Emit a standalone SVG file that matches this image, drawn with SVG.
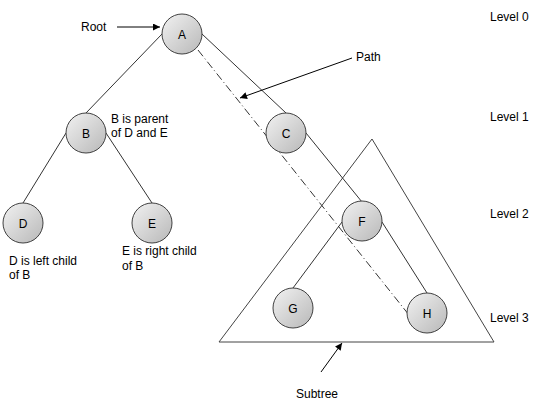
<svg xmlns="http://www.w3.org/2000/svg" width="538" height="406" viewBox="0 0 538 406">
<style>
text{font-family:"Liberation Sans",Arial,sans-serif;font-size:12px;fill:#000}
.node circle{fill:url(#g);stroke:#404040;stroke-width:1}
.node text{text-anchor:middle}
.edge{stroke:#333;stroke-width:1;fill:none}
.arrow{stroke:#000;stroke-width:1;fill:none;marker-end:url(#ah)}
.path{stroke:#333;stroke-width:1;fill:none;stroke-dasharray:8 3 1 3}
.tri{stroke:#444;stroke-width:1;fill:none}
</style>
<defs>
<linearGradient id="g" x1="0" y1="0" x2="1" y2="1">
<stop offset="0" stop-color="#f2f2f2"/>
<stop offset="1" stop-color="#b8b8b8"/>
</linearGradient>
<marker id="ah" viewBox="0 0 10 10" refX="10" refY="5" markerWidth="9" markerHeight="7" markerUnits="userSpaceOnUse" orient="auto">
<path d="M0,0 L10,5 L0,10 z" fill="#000"/>
</marker>
</defs>
<rect width="538" height="406" fill="#fff"/>
<g id="subtree">
<polygon class="tri" points="372,139 219,342 494,342"/>
</g>
<g id="connectors">
<line class="edge" x1="162" y1="34" x2="86" y2="113"/>
<line class="edge" x1="202" y1="34" x2="286" y2="113"/>
<line class="edge" x1="66" y1="133" x2="23" y2="203"/>
<line class="edge" x1="106" y1="133" x2="152" y2="203"/>
<line class="edge" x1="306" y1="133" x2="362" y2="202"/>
<line class="edge" x1="342" y1="222" x2="293" y2="288"/>
<line class="edge" x1="382" y1="222" x2="427" y2="293"/>
<line class="path" x1="198" y1="50" x2="409" y2="315"/>
<line class="arrow" x1="117" y1="27" x2="160" y2="27"/>
<line class="arrow" x1="352" y1="58" x2="240" y2="98"/>
<line class="arrow" x1="321" y1="372" x2="342" y2="343"/>
</g>
<g id="A" class="node"><circle cx="182" cy="34" r="20"/><text x="182" y="39">A</text></g>
<g id="B" class="node"><circle cx="86" cy="133" r="20"/><text x="86" y="138">B</text></g>
<g id="C" class="node"><circle cx="286" cy="133" r="20"/><text x="286" y="138">C</text></g>
<g id="D" class="node"><circle cx="23" cy="223" r="20"/><text x="23" y="228">D</text></g>
<g id="E" class="node"><circle cx="152" cy="223" r="20"/><text x="152" y="228">E</text></g>
<g id="F" class="node"><circle cx="362" cy="221" r="20"/><text x="362" y="226">F</text></g>
<g id="G" class="node"><circle cx="293" cy="308" r="20"/><text x="293" y="313">G</text></g>
<g id="H" class="node"><circle cx="427" cy="313" r="20"/><text x="427" y="318">H</text></g>
<g id="labels">
<text x="81" y="31">Root</text>
<text x="356" y="61">Path</text>
<text x="111" y="123">B is parent</text>
<text x="111" y="137">of D and E</text>
<text x="9" y="265">D is left child</text>
<text x="9" y="279">of B</text>
<text x="122" y="255">E is right child</text>
<text x="122" y="270">of B</text>
<text x="296" y="398">Subtree</text>
<text x="490" y="21">Level 0</text>
<text x="490" y="121">Level 1</text>
<text x="490" y="218">Level 2</text>
<text x="490" y="322">Level 3</text>
</g>
</svg>
